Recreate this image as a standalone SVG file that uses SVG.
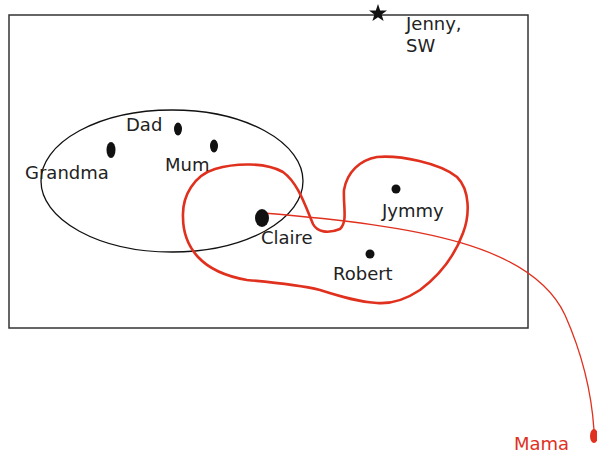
<svg xmlns="http://www.w3.org/2000/svg" width="597" height="454" viewBox="0 0 597 454">
<style>
.lbl{font-family:"DejaVu Sans",Verdana,sans-serif;font-size:18px;fill:#222}
.red{fill:#e0301e}
.dot{fill:#111}
</style>
<rect width="597" height="454" fill="#fff"/>
<g id="frame"><rect x="9" y="15" width="519" height="313" fill="none" stroke="#333" stroke-width="1.5"/></g>
<g id="family"><ellipse cx="172" cy="181" rx="131" ry="71" fill="none" stroke="#111" stroke-width="1.3"/></g>
<g id="group2"><path d="M183,217 C182,195 195,175 215,169 C235,163 265,162 283,172 C298,183 305,205 313,224 C317,232 328,234 340,229 C348,222 343,205 344,190 C347,172 360,160 377,157 C400,155 440,163 457,177 C470,190 470,215 463,233 C455,255 440,275 420,290 C405,300 390,304 377,303 C360,302 345,298 320,290 C300,285 270,282 247,280 C230,277 210,270 198,257 C188,246 183,232 183,217 Z" fill="none" stroke="#e0301e" stroke-width="2.6"/></g>
<g id="connectors"><path d="M263,213 C420,226 532,245 565,315 C585,360 592,400 594,430" fill="none" stroke="#e0301e" stroke-width="1.3"/></g>
<g id="jenny"><polygon points="378,4 380.2,10.4 387,10.5 381.6,14.6 383.6,21 378,17.2 372.4,21 374.4,14.6 369,10.5 375.8,10.4" fill="#111"/><text class="lbl" x="406" y="30">Jenny,</text><text class="lbl" x="406" y="52">SW</text></g>
<g id="dad"><ellipse class="dot" cx="178" cy="129" rx="4" ry="6.5"/><text class="lbl" x="126" y="131">Dad</text></g>
<g id="grandma"><ellipse class="dot" cx="111" cy="150" rx="4.5" ry="8"/><text class="lbl" x="25" y="179">Grandma</text></g>
<g id="mum"><ellipse class="dot" cx="214" cy="146" rx="4" ry="6.5"/><text class="lbl" x="165" y="171">Mum</text></g>
<g id="claire"><ellipse class="dot" cx="262" cy="218" rx="7" ry="9"/><text class="lbl" x="261" y="244">Claire</text></g>
<g id="jymmy"><circle class="dot" cx="396" cy="189" r="4.5"/><text class="lbl" x="382" y="217">Jymmy</text></g>
<g id="robert"><circle class="dot" cx="370" cy="254" r="4.5"/><text class="lbl" x="333" y="280">Robert</text></g>
<g id="mama"><ellipse class="red" cx="594" cy="436" rx="4" ry="7"/><text class="lbl" x="514" y="450" style="fill:#e0301e">Mama</text></g>
</svg>
